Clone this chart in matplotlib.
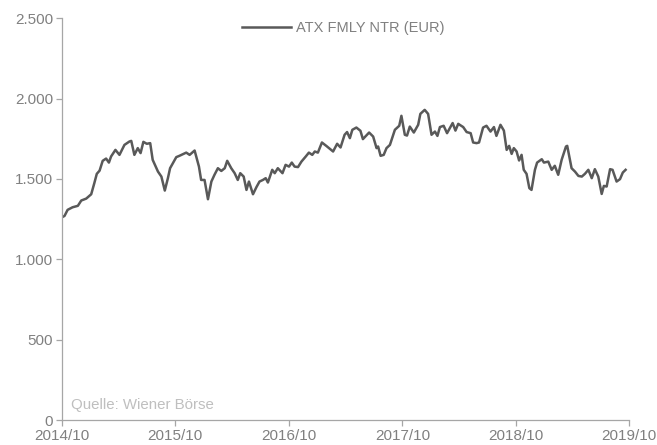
import matplotlib.pyplot as plt
import matplotlib.dates as mdates
from matplotlib.ticker import FuncFormatter
import numpy as np
import pandas as pd

plt.rcParams['font.family'] = ['Liberation Sans', 'DejaVu Sans']

# Data
dates = [
    "2014-10-01", "2014-10-09", "2014-10-19", "2014-11-04", "2014-11-21", "2014-12-02",
    "2014-12-18", "2015-01-03", "2015-01-13", "2015-01-21", "2015-01-30", "2015-02-09",
    "2015-02-20", "2015-03-01", "2015-03-08", "2015-03-22", "2015-04-04", "2015-04-20",
    "2015-05-06", "2015-05-12", "2015-05-22", "2015-06-02", "2015-06-11", "2015-06-20",
    "2015-07-01", "2015-07-12", "2015-07-20", "2015-08-06", "2015-08-17", "2015-08-28",
    "2015-09-07", "2015-09-14", "2015-09-23", "2015-10-04", "2015-10-14", "2015-11-05",
    "2015-11-16", "2015-12-02", "2015-12-16", "2015-12-23", "2016-01-03", "2016-01-14",
    "2016-01-25", "2016-02-04", "2016-02-15", "2016-02-26", "2016-03-08", "2016-03-16",
    "2016-03-29", "2016-04-09", "2016-04-19", "2016-04-27", "2016-05-08", "2016-05-17",
    "2016-05-25", "2016-06-07", "2016-06-18", "2016-06-28", "2016-07-09", "2016-07-18",
    "2016-07-25", "2016-08-08", "2016-08-16", "2016-08-26", "2016-09-10", "2016-09-20",
    "2016-10-01", "2016-10-10", "2016-10-19", "2016-10-30", "2016-11-10", "2016-11-24",
    "2016-12-04", "2016-12-15", "2016-12-23", "2017-01-02", "2017-01-15", "2017-01-29",
    "2017-02-20", "2017-03-05", "2017-03-16", "2017-03-29", "2017-04-06", "2017-04-15",
    "2017-04-23", "2017-05-06", "2017-05-19", "2017-05-27", "2017-06-16", "2017-06-29",
    "2017-07-10", "2017-07-15", "2017-07-23", "2017-08-02", "2017-08-11", "2017-08-22",
    "2017-09-07", "2017-09-21", "2017-09-28", "2017-10-09", "2017-10-16", "2017-10-25",
    "2017-11-07", "2017-11-21", "2017-11-28", "2017-12-12", "2017-12-23", "2018-01-03",
    "2018-01-14", "2018-01-22", "2018-01-30", "2018-02-11", "2018-02-22", "2018-03-12",
    "2018-03-21", "2018-03-30", "2018-04-15", "2018-04-26", "2018-05-09", "2018-05-17",
    "2018-05-28", "2018-06-05", "2018-06-18", "2018-06-29", "2018-07-08", "2018-07-12",
    "2018-07-23", "2018-07-31", "2018-08-13", "2018-08-24", "2018-09-02", "2018-09-10",
    "2018-09-18", "2018-09-25", "2018-10-04", "2018-10-12", "2018-10-20", "2018-10-27",
    "2018-11-05", "2018-11-14", "2018-11-21", "2018-12-02", "2018-12-09", "2018-12-24",
    "2018-12-31", "2019-01-14", "2019-01-25", "2019-02-04", "2019-02-15", "2019-02-26",
    "2019-03-12", "2019-03-16", "2019-03-30", "2019-04-10", "2019-04-21", "2019-05-02",
    "2019-05-12", "2019-05-23", "2019-06-03", "2019-06-13", "2019-06-24", "2019-07-05",
    "2019-07-12", "2019-07-21", "2019-08-01", "2019-08-09", "2019-08-22", "2019-09-02",
    "2019-09-11", "2019-09-20",
]
atx_fmly_ntr = [
    1262, 1270, 1308, 1324, 1333, 1366,
    1378, 1405, 1474, 1532, 1552, 1613,
    1627, 1602, 1640, 1681, 1650, 1712,
    1733, 1737, 1650, 1692, 1661, 1731,
    1719, 1723, 1619, 1546, 1515, 1428,
    1505, 1567, 1598, 1636, 1644, 1664,
    1650, 1677, 1577, 1494, 1494, 1374,
    1484, 1526, 1567, 1550, 1567, 1613,
    1567, 1536, 1494, 1536, 1515, 1432,
    1484, 1405, 1449, 1484, 1494, 1505,
    1478, 1557, 1536, 1567, 1536, 1588,
    1577, 1602, 1577, 1574, 1608, 1640,
    1664, 1650, 1671, 1664, 1727, 1706,
    1671, 1719, 1696, 1775, 1792, 1754,
    1806, 1820, 1800, 1748, 1789, 1764,
    1692, 1702, 1644, 1650, 1692, 1712,
    1806, 1831, 1893, 1775, 1770, 1826,
    1789, 1837, 1905, 1930, 1905, 1775,
    1795, 1768, 1823, 1831, 1785, 1848,
    1801, 1843, 1823, 1792, 1785, 1727,
    1723, 1727, 1820, 1831, 1806, 1795,
    1823, 1768, 1837, 1801, 1681, 1706,
    1656, 1692, 1671, 1615, 1650, 1557,
    1532, 1443, 1432, 1557, 1602, 1623,
    1602, 1608, 1557, 1582, 1526, 1619,
    1702, 1706, 1567, 1546, 1519, 1515,
    1532, 1557, 1505, 1561, 1515, 1407,
    1457, 1453, 1561, 1557, 1484, 1499,
    1540, 1557,
]
x_ticks = ["2014-10-01", "2015-10-01", "2016-10-01", "2017-10-01", "2018-10-01", "2019-10-01"]
y_ticks = [0, 500, 1000, 1500, 2000, 2500]

dates = pd.to_datetime(dates)

fig = plt.figure(figsize=(6.57, 4.45), dpi=100)
ax = fig.add_axes([0.0944, 0.056, 0.863, 0.903])

ax.plot(dates, atx_fmly_ntr, color='#595959', linewidth=1.8, label='ATX FMLY NTR (EUR)')

ax.set_xlim(pd.Timestamp(x_ticks[0]), pd.Timestamp(x_ticks[-1]))
ax.set_ylim(0, 2500)
ax.set_xticks(pd.to_datetime(x_ticks))
ax.xaxis.set_major_formatter(mdates.DateFormatter('%Y/%m'))
ax.set_yticks(y_ticks)
ax.yaxis.set_major_formatter(FuncFormatter(lambda v, p: f"{int(v):,}".replace(",", ".")))

for s in ['top', 'right']:
    ax.spines[s].set_visible(False)
for s in ['left', 'bottom']:
    ax.spines[s].set_color('#a6a6a6')
    ax.spines[s].set_linewidth(0.9)
ax.tick_params(colors='#a6a6a6', labelcolor='#808080', labelsize=11, length=4, width=0.9, pad=2.5)

ax.legend(loc='upper center', bbox_to_anchor=(0.496, 1.025), frameon=False,
          fontsize=10.5, handlelength=3.4, handletextpad=0.35, labelcolor='#808080')

ax.text(0.015, 0.028, 'Quelle: Wiener Börse', transform=ax.transAxes,
        fontsize=10.8, color='#bfbfbf')

fig.savefig('out.png', dpi=100)
